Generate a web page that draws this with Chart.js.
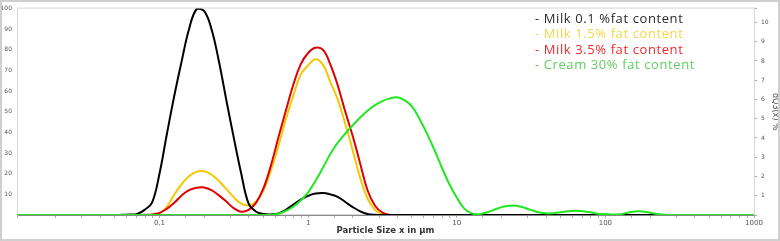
<!DOCTYPE html>
<html>
<head>
<meta charset="utf-8">
<script src="https://cdn.jsdelivr.net/npm/chart.js@4/dist/chart.umd.min.js"></script>
<style>
  body { margin: 0; background: #fff; }
  #wrap { position: relative; width: 780px; height: 241px; }
  #legend { position: absolute; left: 535px; top: 11px; font-family: "Open Sans", sans-serif; font-size: 13px; letter-spacing: 0.6px; line-height: 15.4px; }
</style>
</head>
<body>
<div id="wrap">
  <canvas id="psdChart"></canvas>
  <div id="legend"></div>
</div>
<script>
// particle size classes in µm (shared x values)
const sizes = [
  0.011, 0.02, 0.0447,
  0.0501, 0.0562, 0.0631, 0.0708, 0.0794, 0.0891,
  0.1, 0.112, 0.126, 0.141, 0.158, 0.178, 0.2, 0.224, 0.251, 0.282, 0.316, 0.355, 0.398, 0.447, 0.501, 0.562, 0.631, 0.708, 0.794, 0.891,
  1, 1.12, 1.26, 1.41, 1.58, 1.78, 2, 2.24, 2.51, 2.82, 3.16, 3.55, 3.98, 4.47, 5.01, 5.62, 6.31, 7.08, 7.94, 8.91,
  10, 11.2, 12.6, 14.1, 15.8, 17.8, 20, 22.4, 25.1, 28.2, 31.6, 35.5, 39.8, 44.7, 50.1, 56.2, 63.1, 70.8, 79.4, 89.1,
  100, 112, 126, 141, 158, 178, 200, 224, 251, 282, 316, 355,
  500, 1000
];

const milk01 = [
  0, 0, 0,
  0, 0.1, 0.2, 0.5, 2.5, 6,
  20, 39, 58, 74.5, 90, 99.8, 98.8, 90, 74.5, 55.5, 37.5, 20, 5.5, 1.6, 0.5, 0.3, 0.8, 2.5, 5, 7.5,
  9.3, 10.4, 10.7, 10, 8.8, 6.3, 3.8, 1.8, 0.5, 0.1, 0, 0, 0, 0, 0, 0, 0, 0, 0, 0,
  0, 0, 0, 0, 0, 0, 0, 0, 0, 0, 0, 0, 0, 0, 0, 0, 0, 0, 0, 0,
  0, 0, 0, 0, 0, 0, 0, 0, 0, 0, 0, 0,
  0, 0
];

const milk15 = [
  0, 0, 0,
  0, 0, 0, 0, 0, 0,
  0.8, 4, 10, 15, 18.8, 21, 21.2, 19.5, 16.5, 12.5, 8.6, 5.5, 4.6, 6.5, 12, 21.5, 33.4, 46.4, 57.6, 68,
  72.5, 75.5, 72.8, 64.5, 56, 44, 31, 18, 8, 2.5, 0.4, 0, 0, 0, 0, 0, 0, 0, 0, 0,
  0, 0, 0, 0, 0, 0, 0, 0, 0, 0, 0, 0, 0, 0, 0, 0, 0, 0, 0, 0,
  0, 0, 0, 0, 0, 0, 0, 0, 0, 0, 0, 0,
  0, 0
];

const milk35 = [
  0, 0, 0,
  0, 0, 0, 0, 0.1, 0.3,
  1, 3, 6, 9.5, 12, 13.2, 13.3, 12, 9.5, 6.5, 3.3, 1.6, 2.5, 6, 13, 24, 37.5, 50.5, 63, 73,
  78.5, 81, 80, 73, 63, 50, 38, 25, 12, 4.5, 1.2, 0, 0, 0, 0, 0, 0, 0, 0, 0,
  0, 0, 0, 0, 0, 0, 0, 0, 0, 0, 0, 0, 0, 0, 0, 0, 0, 0, 0, 0,
  0, 0, 0, 0, 0, 0, 0, 0, 0, 0, 0, 0,
  0, 0
];

const cream30 = [
  0, 0, 0,
  0, 0, 0, 0, 0, 0,
  0, 0, 0, 0, 0, 0, 0, 0, 0, 0, 0, 0, 0, 0, 0, 0.1, 0.6, 2, 4, 7,
  11, 16.5, 23, 29.5, 35, 39.5, 43.5, 47.2, 50.5, 53.2, 55.2, 56.5, 57, 55.5, 52.5, 46.5, 39.4, 31.5, 23, 15,
  8.5, 3.2, 0.8, 0.4, 1.2, 2.5, 3.8, 4.5, 4.5, 3.6, 2.4, 1.3, 0.8, 0.9, 1.3, 1.8, 2, 1.8, 1.3, 0.6,
  0.5, 0.3, 0.4, 1.1, 1.7, 1.7, 1.1, 0.5, 0.1, 0, 0, 0,
  0, 0
];

const seriesLabels = ['Milk 0.1 %fat content', 'Milk 1.5% fat content', 'Milk 3.5% fat content', 'Cream 30% fat content'];
const lineColors = ['#000000', '#f5c800', '#e00000', '#22e622'];
const textColors = ['#2a2a2a', '#f7d54a', '#ee2a2a', '#5fcf5f'];
const drawOrder = [1, 3, 2, 0];

const xTickValues = [0.1, 1, 10, 100, 1000];
const xTickText = ['0,1', '1', '10', '100', '1000'];

// frame around plot + outer border
const framePlugin = {
  id: 'frame',
  beforeDatasetsDraw(chart) {
    const a = chart.chartArea, c = chart.ctx;
    c.save();
    c.strokeStyle = '#d8d8d8';
    c.lineWidth = 1;
    c.strokeRect(a.left + 0.5, a.top - 0.5, a.right - a.left, a.bottom - a.top);
    c.restore();
  },
  afterDraw(chart) {
    const c = chart.ctx;
    c.save();
    c.strokeStyle = '#cfcfcf';
    c.lineWidth = 2;
    c.strokeRect(1, 1, chart.width - 2, chart.height - 2);
    c.restore();
  }
};

const ctx = document.getElementById('psdChart');
const allSeries = [milk01, milk15, milk35, cream30];

new Chart(ctx, {
  type: 'line',
  data: {
    labels: sizes,
    datasets: allSeries.map((vals, i) => ({
      label: seriesLabels[i],
      data: vals,
      borderColor: lineColors[i],
      borderWidth: 2,
      pointRadius: 0,
      tension: 0.4,
      fill: false,
      order: drawOrder[i],
      yAxisID: 'y'
    }))
  },
  options: {
    responsive: true,
    maintainAspectRatio: false,
    animation: false,
    layout: { padding: { top: 6, bottom: 0, left: 0, right: 0 } },
    plugins: { legend: { display: false }, tooltip: { enabled: false } },
    scales: {
      x: {
        type: 'logarithmic',
        min: 0.011,
        max: 1000,
        afterFit(s) { s.height = 26; },
        border: { color: '#8a8a8a', width: 1 },
        grid: { drawOnChartArea: false, drawTicks: true, tickLength: 3, color: '#b0b0b0' },
        ticks: {
          autoSkip: false,
          maxRotation: 0,
          padding: 1,
          color: '#555',
          font: { size: 7, family: 'DejaVu Sans' },
          callback(v) {
            const k = xTickValues.indexOf(v);
            return k >= 0 ? xTickText[k] : '';
          }
        },
        title: {
          display: true,
          text: 'Particle Size x in µm',
          color: '#333',
          font: { size: 8.5, weight: 'bold', family: 'DejaVu Sans' },
          padding: { top: 0, bottom: 5 }
        }
      },
      y: {
        position: 'left',
        min: 0,
        max: 100,
        afterFit(s) { s.width = 17; },
        border: { color: '#d8d8d8' },
        grid: { display: false, drawTicks: false, tickLength: 0 },
        ticks: {
          stepSize: 10,
          padding: 5,
          color: '#555',
          font: { size: 6, family: 'DejaVu Sans' },
          callback(v) { return v === 0 ? '' : v; }
        }
      },
      y1: {
        position: 'right',
        min: 0,
        max: 10.72,
        afterFit(s) { s.width = 26; },
        border: { color: '#aaaaaa' },
        grid: { drawOnChartArea: false, tickLength: 3, color: '#aaaaaa' },
        ticks: {
          stepSize: 1,
          padding: 4,
          color: '#555',
          font: { size: 6, family: 'DejaVu Sans' },
          callback(v) { return (v === 0 || v !== Math.round(v)) ? '' : v; }
        },
        title: {
          display: true,
          text: 'dQ3(x) %',
          color: '#444',
          font: { size: 8, family: 'DejaVu Sans' },
          padding: 0
        }
      }
    }
  },
  plugins: [framePlugin]
});

// legend as text in the top right
const legend = document.getElementById('legend');
seriesLabels.forEach((t, i) => {
  const d = document.createElement('div');
  d.style.color = textColors[i];
  d.textContent = '- ' + t;
  legend.appendChild(d);
});
</script>
</body>
</html>
